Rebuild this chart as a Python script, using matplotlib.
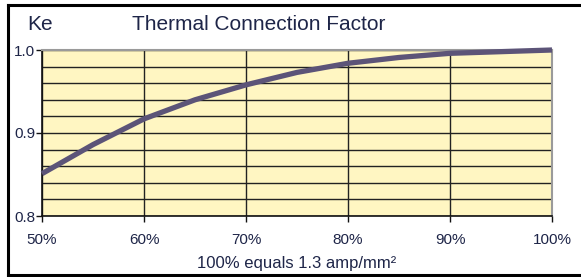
import matplotlib

matplotlib.use("Agg")
import matplotlib.pyplot as plt
from matplotlib.lines import Line2D
from matplotlib.ticker import FixedLocator, MultipleLocator

# Load as fraction of rated current (%) vs thermal connection factor Ke
load_pct = [50, 55, 60, 65, 70, 75, 80, 85, 90, 95, 100]
ke_values = [0.851, 0.886, 0.917, 0.940, 0.958, 0.973, 0.984, 0.991, 0.996, 0.998, 1.0]

x_ticks = [50, 60, 70, 80, 90, 100]
x_tick_labels = ["50%", "60%", "70%", "80%", "90%", "100%"]
y_ticks = [0.8, 0.9, 1.0]
y_tick_labels = ["0.8", "0.9", "1.0"]

plt.rcParams["font.family"] = ["Liberation Sans", "DejaVu Sans"]
text_color = "#1e2548"

fig = plt.figure(figsize=(5.81, 2.77), dpi=100)
fig.patch.set_facecolor("white")
ax = fig.add_axes([42 / 581, 1 - 216 / 277, 510 / 581, 166 / 277])
ax.set_facecolor("#fff6c2")

ax.set_xlim(50, 100)
ax.set_ylim(0.8, 1.0)

# Grid: black lines every 10% and every 0.02
ax.xaxis.set_major_locator(FixedLocator(x_ticks))
ax.yaxis.set_major_locator(FixedLocator(y_ticks))
ax.yaxis.set_minor_locator(MultipleLocator(0.02))
ax.grid(True, which="major", axis="x", color="#222222", linewidth=1.0)
ax.grid(True, which="both", axis="y", color="#222222", linewidth=1.0)
ax.set_axisbelow(True)

ax.plot(load_pct, ke_values, color="#5c5478", linewidth=3.8, solid_capstyle="butt",
        zorder=3, clip_on=False)

ax.set_xticklabels(x_tick_labels)
ax.set_yticklabels(y_tick_labels)
ax.tick_params(axis="both", which="major", direction="out", length=4, width=1,
               labelsize=11, labelcolor=text_color, color="#111111")
ax.tick_params(axis="y", which="minor", length=0)
ax.tick_params(axis="x", pad=8)
ax.tick_params(axis="y", pad=1)

for side in ("left", "bottom"):
    ax.spines[side].set_color("#111111")
    ax.spines[side].set_linewidth(1.2)
for side in ("top", "right"):
    ax.spines[side].set_color("#9a9a9a")
    ax.spines[side].set_linewidth(1.5)

ax.set_xlabel("100% equals 1.3 amp/mm²", fontsize=12, color=text_color, labelpad=7)

fig.text(27 / 581, 1 - 25 / 277, "Ke", fontsize=15, color=text_color, va="center")
fig.text(132 / 581, 1 - 25 / 277, "Thermal Connection Factor", fontsize=15,
         color=text_color, va="center")

# Outer frame (left, top, bottom)
x0, y0, y1 = 8 / 581, 1 - 275 / 277, 1 - 5 / 277
frame_kw = dict(color="black", linewidth=2.2, transform=fig.transFigure)
fig.add_artist(Line2D([x0, x0], [y0, y1], **frame_kw))
fig.add_artist(Line2D([x0, 1.0], [y1, y1], **frame_kw))
fig.add_artist(Line2D([x0, 1.0], [y0, y0], **frame_kw))

fig.savefig("out.png", dpi=100, facecolor="white")
